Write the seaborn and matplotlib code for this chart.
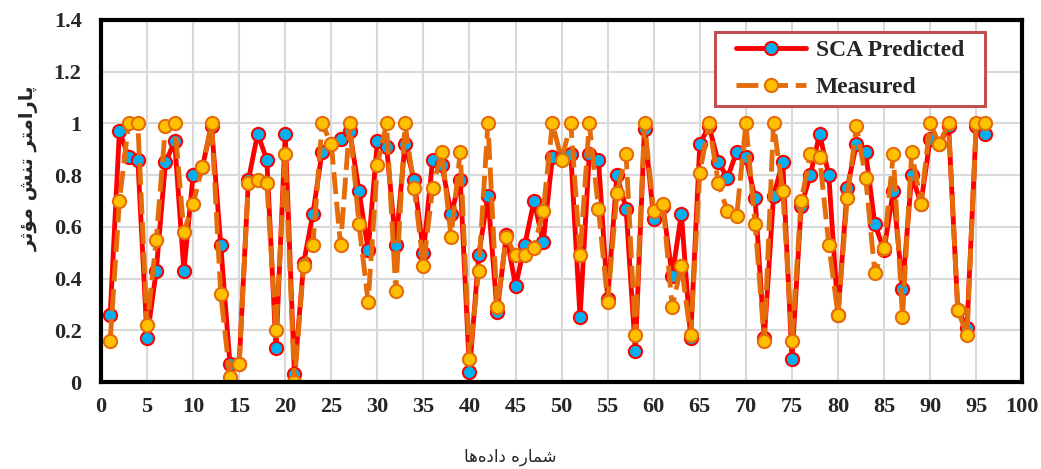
import matplotlib
matplotlib.use("Agg")
import matplotlib.pyplot as plt
from matplotlib.patches import Rectangle
from matplotlib.transforms import IdentityTransform
import seaborn as sns
import pandas as pd

# data
sample_no = list(range(1, 97))

sca_predicted = [
    0.26, 0.97, 0.87, 0.86, 0.17, 0.43, 0.85, 0.93, 0.43, 0.80,
    0.83, 0.99, 0.53, 0.07, 0.07, 0.78, 0.96, 0.86, 0.13, 0.96,
    0.03, 0.46, 0.65, 0.89, 0.92, 0.94, 0.97, 0.74, 0.51, 0.93,
    0.91, 0.53, 0.92, 0.78, 0.50, 0.86, 0.84, 0.65, 0.78, 0.04,
    0.49, 0.72, 0.27, 0.57, 0.37, 0.53, 0.70, 0.54, 0.87, 0.87,
    0.88, 0.25, 0.88, 0.86, 0.32, 0.80, 0.67, 0.12, 0.98, 0.63,
    0.68, 0.41, 0.65, 0.17, 0.92, 0.99, 0.85, 0.79, 0.89, 0.87,
    0.71, 0.17, 0.72, 0.85, 0.09, 0.68, 0.80, 0.96, 0.80, 0.26,
    0.75, 0.92, 0.89, 0.61, 0.51, 0.74, 0.36, 0.80, 0.69, 0.94,
    0.92, 0.99, 0.28, 0.21, 0.99, 0.96,
]

measured = [
    0.16, 0.70, 1.00, 1.00, 0.22, 0.55, 0.99, 1.00, 0.58, 0.69,
    0.83, 1.00, 0.34, 0.02, 0.07, 0.77, 0.78, 0.77, 0.20, 0.88,
    0.00, 0.45, 0.53, 1.00, 0.92, 0.53, 1.00, 0.61, 0.31, 0.84,
    1.00, 0.35, 1.00, 0.75, 0.45, 0.75, 0.89, 0.56, 0.89, 0.09,
    0.43, 1.00, 0.29, 0.56, 0.49, 0.49, 0.52, 0.66, 1.00, 0.86,
    1.00, 0.49, 1.00, 0.67, 0.31, 0.73, 0.88, 0.18, 1.00, 0.66,
    0.69, 0.29, 0.45, 0.18, 0.81, 1.00, 0.77, 0.66, 0.64, 1.00,
    0.61, 0.16, 1.00, 0.74, 0.16, 0.70, 0.88, 0.87, 0.53, 0.26,
    0.71, 0.99, 0.79, 0.42, 0.52, 0.88, 0.25, 0.89, 0.69, 1.00,
    0.92, 1.00, 0.28, 0.18, 1.00, 1.00,
]

x_ticks = list(range(0, 101, 5))
y_ticks = [0, 0.2, 0.4, 0.6, 0.8, 1.0, 1.2, 1.4]
y_ticklabels = ["0", "0.2", "0.4", "0.6", "0.8", "1", "1.2", "1.4"]

# Arabic-script labels, written in shaped presentation forms (visual order)
ylabel_fa = "\uFEAE\uFE9B\uFE86\uFEE3 \uFEB6\uFEE8\uFE97 \uFEAE\uFE98\uFEE3\uFE8D\uFEAD\uFE8E\uFB58"
xlabel_fa = "\uFE8E\uFEEB\uFEE9\uFEA9\uFE8D\uFEA9 \uFEE9\uFEAD\uFE8E\uFEE4\uFEB7"

df = pd.DataFrame({"n": sample_no, "pred": sca_predicted, "meas": measured})

sns.set_style("white")
plt.rcParams["font.family"] = ["Liberation Serif", "DejaVu Sans"]

fig = plt.figure(figsize=(10.41, 4.69), dpi=100)
ax = fig.add_axes([0.097, 0.1855, 0.885, 0.772])

sns.lineplot(data=df, x="n", y="pred", ax=ax, color="#FF0000", linewidth=3.5,
             marker="o", markersize=9.5, markerfacecolor="#00B0F0",
             markeredgecolor="#FF0000", markeredgewidth=1.5,
             label="SCA Predicted")
sns.lineplot(data=df, x="n", y="meas", ax=ax, color="#E46C0A", linewidth=3.5,
             marker="o", markersize=9.5, markerfacecolor="#FFC000",
             markeredgecolor="#E46C0A", markeredgewidth=1.5,
             dashes=False, label="Measured")
ax.lines[1].set_dashes([4.5, 1.6])

ax.set_xlim(0, 100)
ax.set_ylim(0, 1.4)
ax.set_xticks(x_ticks)
ax.set_yticks(y_ticks)
ax.set_yticklabels(y_ticklabels)
ax.grid(True, color="#d9d9d9", linewidth=1.5)
ax.set_axisbelow(True)
ax.tick_params(length=0, labelsize=16)
ax.tick_params(axis="y", pad=14)
ax.tick_params(axis="x", pad=11)
for lab in ax.get_xticklabels() + ax.get_yticklabels():
    lab.set_fontweight("bold")

for side in ["left", "bottom", "top", "right"]:
    ax.spines[side].set_color("black")
    ax.spines[side].set_linewidth(3)

ax.set_xlabel("")
ax.set_ylabel(ylabel_fa, family=["DejaVu Sans"], fontweight="bold", fontsize=14)
ax.yaxis.set_label_coords(-0.068, 0.59)
fig.text(510 / 1041, 1 - 457 / 469, xlabel_fa, family=["DejaVu Sans"],
         fontsize=12, ha="center", va="center")

# legend without its own frame; a wider box is drawn around it below
leg = ax.legend(loc="upper right", bbox_to_anchor=(0.946, 0.968),
                borderaxespad=0,
                prop={"family": "Liberation Serif", "weight": "bold", "size": 17},
                frameon=False, handlelength=3.0,
                borderpad=0.35, labelspacing=0.65, handletextpad=0.4)

fig.canvas.draw()
bb = leg.get_window_extent()
box = Rectangle((bb.x0 - 12, bb.y0), bb.width + 24, bb.height,
                transform=IdentityTransform(), facecolor="white",
                edgecolor="#C0504D", linewidth=2.2, zorder=4.9, clip_on=False)
ax.add_patch(box)

fig.savefig("out.png", dpi=100)
